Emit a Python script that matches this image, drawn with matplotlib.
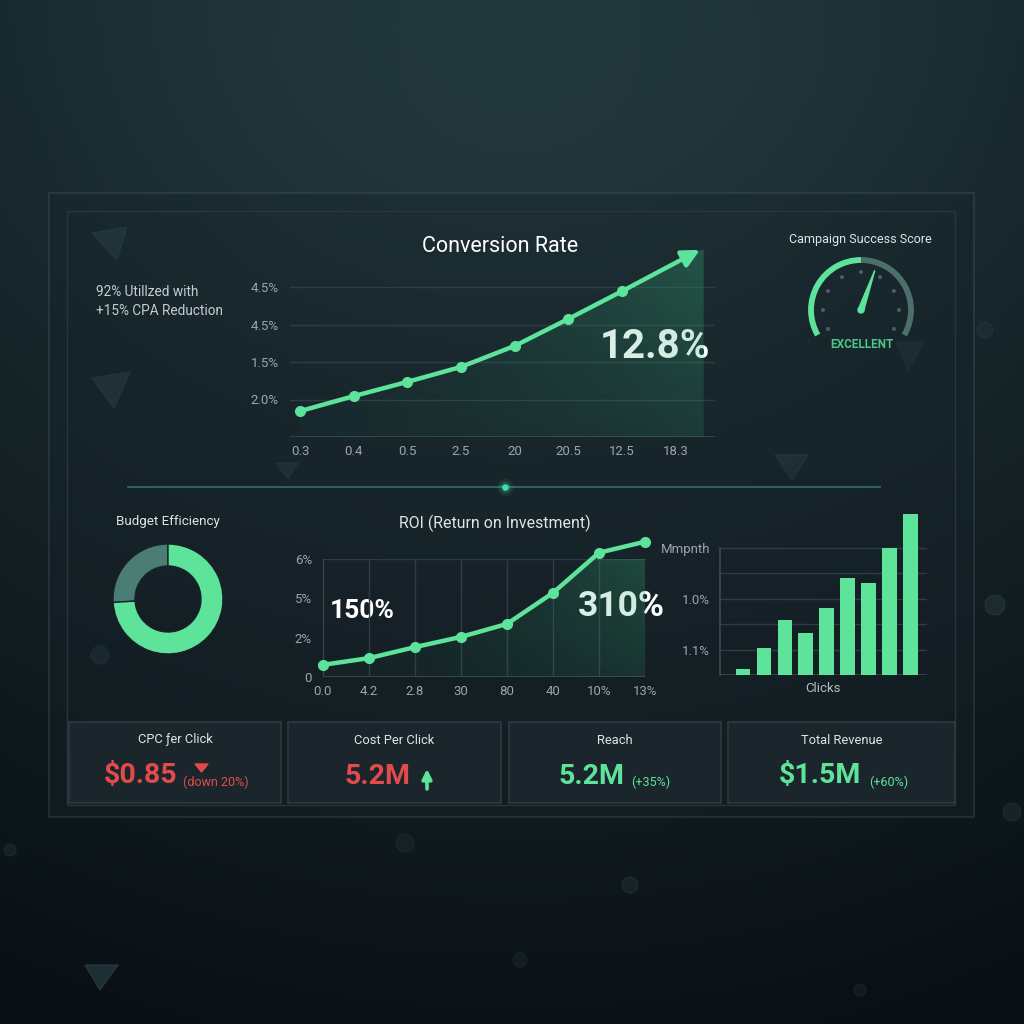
import numpy as np
import matplotlib
matplotlib.use("Agg")
import matplotlib.pyplot as plt
from matplotlib.patches import Rectangle, Polygon, Arc, Circle, FancyArrowPatch

plt.rcParams['font.family'] = ['Roboto', 'DejaVu Sans']

# ---- data ----
conv_labels = ['0.3', '0.4', '0.5', '2.5', '20', '20.5', '12.5', '18.3']
conv_values = [0.69, 1.09, 1.47, 1.87, 2.43, 3.15, 3.89]
conv_arrow_end = (7.45, 4.99)
conv_yticks = [1, 2, 3, 4]
conv_ytick_labels = ['2.0%', '1.5%', '4.5%', '4.5%']
conv_headline = '12.8%'

roi_labels = ['0.0', '4.2', '2.8', '30', '80', '40', '10%', '13%']
roi_values = [0.31, 0.48, 0.76, 1.02, 1.35, 2.14, 3.16, 3.44]
roi_yticks = [0, 1, 2, 3]
roi_ytick_labels = ['0', '2%', '5%', '6%']

clicks_values = [0.24, 1.06, 2.17, 1.65, 2.64, 3.82, 3.62, 5.0, 6.34]
clicks_yticks = [1, 3, 5]
clicks_ytick_labels = ['1.1%', '1.0%', 'Mmpnth']

budget_shares = [26, 74]      # remaining, used
gauge_score = 58              # needle position, 0-100 along the dial
gauge_green = 50              # green part of the dial, 0-100

kpi_titles = ['CPC ƒer Click', 'Cost Per Click', 'Reach', 'Total Revenue']
kpi_values = ['$0.85', '5.2M', '5.2M', '$1.5M']
kpi_deltas = ['(down 20%)', '', '(+35%)', '(+60%)']

# ---- colours ----
GREEN = '#5ee39a'
RED = '#e14b4b'
TEXT = '#dfe5e8'
MUTED = '#9aa6ab'
GRID = '#2e3d43'

W = H = 1024
fig = plt.figure(figsize=(10.24, 10.24), dpi=100)


def px_axes(x0, y0, x1, y1):
    # axes placed by pixel box (y measured from the top)
    ax = fig.add_axes([x0 / W, 1 - y1 / H, (x1 - x0) / W, (y1 - y0) / H])
    ax.patch.set_alpha(0)
    for s in ax.spines.values():
        s.set_visible(False)
    return ax


def green_fill(ax, xs, ys, x_end, y_top, strength=0.3):
    # gradient fill under a line, clipped to the area below it
    verts = list(zip(xs, ys)) + [(x_end, ys[-1]), (x_end, 0), (xs[0], 0)]
    poly = Polygon(verts, closed=True, facecolor='none', edgecolor='none')
    ax.add_patch(poly)
    gx = np.linspace(0, 1, 200)[None, :]
    gy = np.linspace(0, 1, 100)[:, None]
    img = np.zeros((100, 200, 4))
    img[..., 0], img[..., 1], img[..., 2] = 0.20, 0.66, 0.46
    img[..., 3] = 0.03 + strength * gx ** 1.6 * (0.45 + 0.55 * gy)
    im = ax.imshow(img, extent=(xs[0], x_end, 0, y_top), origin='lower',
                   aspect='auto', zorder=1, interpolation='bilinear')
    im.set_clip_path(poly)


# ---- background ----
bg = fig.add_axes([0, 0, 1, 1])
bg.set_xlim(0, W)
bg.set_ylim(H, 0)
bg.axis('off')
yy, xx = np.mgrid[0:H, 0:W]
t = yy / H
base = np.stack([0.115 - 0.055 * t, 0.175 - 0.085 * t, 0.195 - 0.09 * t], axis=-1)
glow = np.exp(-(((xx - 520) / 520) ** 2 + ((yy - 60) / 380) ** 2))[..., None]
vign = np.clip(((xx - 512) / 700) ** 2 + ((yy - 480) / 700) ** 2, 0, 1)[..., None]
img = base + glow * np.array([0.035, 0.06, 0.06]) - vign * 0.03
bg.imshow(np.clip(img, 0, 1), extent=(0, W, H, 0), aspect='auto', zorder=0)

# faint decorative triangles and bokeh
for tri, a in [([(92, 233), (127, 227), (117, 260)], 0.45),
               ([(92, 378), (130, 372), (114, 408)], 0.45),
               ([(775, 455), (808, 455), (792, 480)], 0.4),
               ([(896, 342), (924, 342), (908, 370)], 0.25),
               ([(85, 965), (118, 965), (100, 990)], 0.45),
               ([(276, 463), (298, 463), (288, 479)], 0.35)]:
    bg.add_patch(Polygon(tri, closed=True, color='#35525a', alpha=a, zorder=1))
for cx, cy, r, a in [(100, 655, 9, 0.25), (995, 605, 10, 0.25), (1012, 812, 9, 0.2),
                     (630, 885, 8, 0.2), (405, 843, 9, 0.15), (10, 850, 6, 0.2),
                     (520, 960, 7, 0.15), (985, 330, 8, 0.15), (860, 990, 6, 0.15)]:
    bg.add_patch(Circle((cx, cy), r, color='#3b5a60', alpha=a, zorder=1))

# panel frames
bg.add_patch(Rectangle((49, 193), 925, 624, facecolor='#16232a', alpha=0.35,
                       edgecolor='#3f6164', lw=1.3, zorder=2))
bg.add_patch(Rectangle((67, 211), 888, 594, facecolor='none',
                       edgecolor='#26363c', lw=1.0, zorder=2))

# separator with glowing dot
bg.plot([128, 880], [487, 487], color='#2f7268', lw=1.2, zorder=3)
for s, a in [(160, 0.08), (70, 0.2), (22, 1.0)]:
    bg.scatter([505], [487], s=s, color='#3fe0a6', alpha=a, zorder=4, lw=0)

# ---- conversion rate line chart ----
ax = px_axes(290, 242, 715, 437)
cx = np.arange(len(conv_values))
for y in conv_yticks:
    ax.axhline(y, color=GRID, lw=1, zorder=0)
ax.axhline(0, color='#3a4a50', lw=1.2, zorder=0)
green_fill(ax, list(cx) + [conv_arrow_end[0]], list(conv_values) + [conv_arrow_end[1]],
           conv_arrow_end[0] + 0.07, conv_arrow_end[1] + 0.05)
ax.plot(cx, conv_values, color=GREEN, lw=3.2, marker='o', ms=7, zorder=4)
ax.add_patch(FancyArrowPatch((cx[-1], conv_values[-1]), conv_arrow_end,
                             arrowstyle='-|>', mutation_scale=26, color=GREEN,
                             lw=3.2, zorder=4, shrinkA=0, shrinkB=0))
ax.set_xlim(-0.186, 7.73)
ax.set_ylim(0, 5.2)
ax.set_xticks(range(len(conv_labels)))
ax.set_xticklabels(conv_labels)
ax.set_yticks(conv_yticks)
ax.set_yticklabels(conv_ytick_labels)
ax.tick_params(length=0, colors=MUTED, labelsize=9.5)
ax.tick_params(axis='x', pad=6)
ax.tick_params(axis='y', pad=8)

bg.text(500, 247, 'Conversion Rate', color='white', fontsize=15.5, ha='center',
        va='center', zorder=5)
bg.text(655, 347, conv_headline, color='white', fontsize=29, fontweight='bold',
        ha='center', va='center', zorder=5)
bg.text(96, 292, '92% Utillzed with', color='#c4ccd0', fontsize=9.8, va='center', zorder=5)
bg.text(96, 311, '+15% CPA Reduction', color='#c4ccd0', fontsize=9.8, va='center', zorder=5)

# ---- campaign success gauge ----
bg.text(860, 240, 'Campaign Success Score', color=TEXT, fontsize=9,
        ha='center', va='center', zorder=5)
g = px_axes(791, 240, 931, 380)
g.set_xlim(-70, 70)
g.set_ylim(-70, 70)
g.set_aspect('equal')
g.set_xticks([])
g.set_yticks([])
start, sweep = 210, 240
green_end = start - sweep * gauge_green / 100
g.add_patch(Arc((0, 0), 100, 100, theta1=-30, theta2=green_end, color='#4d6f6c', lw=4.2))
g.add_patch(Arc((0, 0), 100, 100, theta1=green_end, theta2=start, color=GREEN, lw=4.2))
for a in np.arange(-30, 211, 30):
    r = np.deg2rad(a)
    g.add_patch(Circle((38 * np.cos(r), 38 * np.sin(r)), 1.3, color='#4c5d63'))
na = np.deg2rad(start - sweep * gauge_score / 100)
perp = na + np.pi / 2
g.add_patch(Polygon([(2.8 * np.cos(perp), 2.8 * np.sin(perp)),
                     (42 * np.cos(na), 42 * np.sin(na)),
                     (-2.8 * np.cos(perp), -2.8 * np.sin(perp))],
                    closed=True, color=GREEN))
g.add_patch(Circle((0, 0), 3, color=GREEN))
bg.text(862, 345, 'EXCELLENT', color='#4cc48a', fontsize=8.5, fontweight='bold',
        ha='center', va='center', zorder=5)

# ---- budget efficiency donut ----
bg.text(168, 522, 'Budget Efficiency', color=TEXT, fontsize=9.6, ha='center',
        va='center', zorder=5)
d = px_axes(108, 539, 228, 659)
d.pie(budget_shares, colors=['#4b7d74', GREEN], startangle=90, counterclock=True,
      radius=1, wedgeprops=dict(width=0.4, edgecolor='#16232a', linewidth=1))
d.set_xlim(-60 / 55, 60 / 55)
d.set_ylim(-60 / 55, 60 / 55)
d.set_aspect('equal')

# ---- ROI line chart ----
bg.text(495, 523, 'ROI (Return on Investment)', color=TEXT, fontsize=11.4,
        ha='center', va='center', zorder=5)
r = px_axes(323, 559, 645, 677)
rx = np.arange(len(roi_values))
for x in rx:
    r.axvline(x, color=GRID, lw=1, zorder=0)
r.axhline(roi_yticks[-1], color=GRID, lw=1, zorder=0)
r.axhline(0, color='#3a4a50', lw=1.2, zorder=0)
r.axvline(0, color='#3a4a50', lw=1.2, zorder=0)
green_fill(r, list(rx), list(roi_values), rx[-1], roi_values[-1], strength=0.28)
r.plot(rx, roi_values, color=GREEN, lw=3.2, marker='o', ms=7, zorder=4, clip_on=False)
r.set_xlim(0, len(roi_values) - 1)
r.set_ylim(0, roi_yticks[-1])
r.set_xticks(rx)
r.set_xticklabels(roi_labels)
r.set_yticks(roi_yticks)
r.set_yticklabels(roi_ytick_labels)
r.tick_params(length=0, colors=MUTED, labelsize=9.5)
r.tick_params(axis='x', pad=6)
r.tick_params(axis='y', pad=8)
bg.text(362, 611, '150%', color='white', fontsize=19, fontweight='bold',
        ha='center', va='center', zorder=5)
bg.text(621, 607, '310%', color='white', fontsize=25.5, fontweight='bold',
        ha='center', va='center', zorder=5)

# ---- clicks bar chart ----
b = px_axes(720, 512, 927, 675)
bx = np.arange(len(clicks_values))
for y in range(1, 6):
    b.axhline(y, color=GRID, lw=1, zorder=0)
b.axhline(0, color='#3a4a50', lw=1.2, zorder=0)
b.plot([-1.1, -1.1], [0, 5], color='#3a4a50', lw=1.2, zorder=0, clip_on=False)
b.bar(bx, clicks_values, width=0.7, color=GREEN, zorder=3)
b.set_xlim(-1.1, 8.8)
b.set_ylim(0, 6.4)
b.set_xticks([])
b.set_yticks(clicks_yticks)
b.set_yticklabels(clicks_ytick_labels)
b.tick_params(length=0, colors=MUTED, labelsize=9.5)
b.tick_params(axis='y', pad=7)
b.set_xlabel('Clicks', color='#b3bec2', fontsize=9.5, labelpad=5)

# ---- KPI cards ----
cards = [(69, 281), (288, 501), (509, 721), (728, 955)]
value_x = [141, 377, 592, 820]
delta_x = [183, 0, 631, 869]
for i, (x0, x1) in enumerate(cards):
    bg.add_patch(Rectangle((x0, 722), x1 - x0, 81, facecolor='#1a262c',
                           edgecolor='#2c3b41', lw=1.2, zorder=3))
    bg.text((x0 + x1) / 2, 740, kpi_titles[i], color=TEXT,
            fontsize=9.3, ha='center', va='center', zorder=5)
    col = RED if i < 2 else GREEN
    bg.text(value_x[i], 776, kpi_values[i], color=col, fontsize=20.5,
            fontweight='bold', ha='center', va='center', zorder=5)
    if kpi_deltas[i]:
        bg.text(delta_x[i], 782, kpi_deltas[i], color=col, fontsize=9,
                ha='left', va='center', zorder=5)

# small trend markers on the first two cards
bg.add_patch(Polygon([(195, 764), (208, 764), (201.5, 772)], closed=True,
                     color=RED, zorder=5))
bg.add_patch(FancyArrowPatch((427, 789), (427, 769), arrowstyle='-|>',
                             mutation_scale=14, color=GREEN, lw=2.6, zorder=5,
                             shrinkA=0, shrinkB=0))

fig.savefig('out.png', dpi=100, facecolor='#111a1f')
